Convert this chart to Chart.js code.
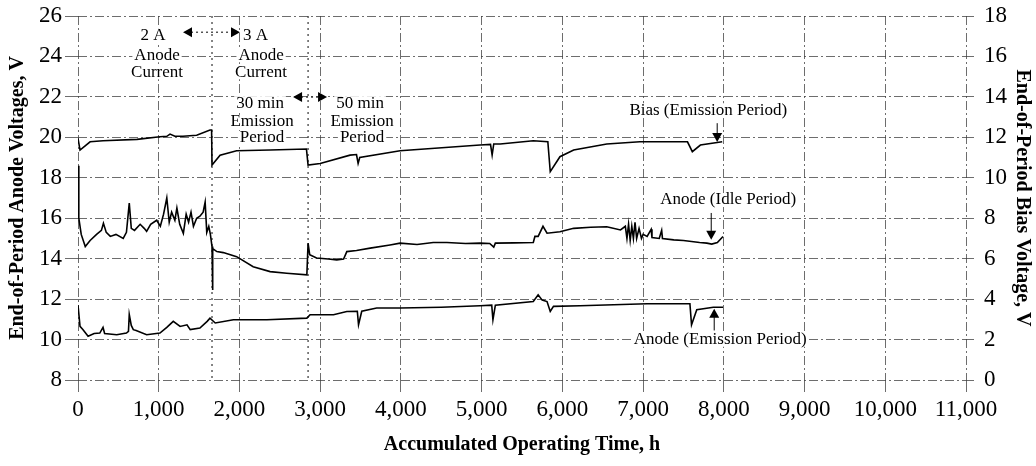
<!DOCTYPE html>
<html>
<head>
<meta charset="utf-8">
<script src="https://cdn.jsdelivr.net/npm/chart.js@4/dist/chart.umd.min.js"></script>
<style>
  html, body { margin: 0; padding: 0; background: #fff; }
  #wrap { width: 1036px; height: 466px; }
</style>
</head>
<body>
<div id="wrap"><canvas id="chart" width="1036" height="466"></canvas></div>
<script>
// values
const biasHours = [0, 25, 150, 310, 730, 1015, 1100, 1140, 1200, 1300, 1470, 1635, 1655, 1660, 1760, 1965, 2380, 2830,
  2850, 3000, 3370, 3450, 3470, 3490, 3990, 4980, 5110, 5130, 5150, 5230, 5640, 5820,
  5850, 5970, 6140, 6550, 6960, 7550, 7610, 7710, 7980];
const biasVolts = [11.95, 11.37, 11.78, 11.83, 11.9, 12.03, 12.05, 12.16, 12.05, 12.05, 12.1, 12.36, 12.36, 10.63, 11.12, 11.34, 11.37, 11.42,
  10.63, 10.71, 11.12, 11.15, 10.71, 11.0, 11.34, 11.62, 11.65, 11.12, 11.67, 11.67, 11.83, 11.78,
  10.3, 11.04, 11.37, 11.67, 11.78, 11.78, 11.29, 11.62, 11.78];

const idleHours = [0, 10, 40, 90, 150, 230, 290, 315, 350, 400, 470, 560, 600, 635, 660, 700, 770, 820, 850, 900, 975,
  1020, 1060, 1100, 1130, 1160, 1200, 1225, 1260, 1305, 1340, 1370, 1400, 1430, 1470, 1510, 1550, 1575, 1595, 1620, 1640,
  1660, 1665, 1672, 1720, 1800, 1965, 2170, 2380, 2585, 2835, 2850, 2870, 2955, 3100, 3205, 3290, 3330, 3450, 3620, 3865,
  3990, 4200, 4400, 4570, 4800, 4980, 5100, 5150, 5170, 5400, 5640, 5660, 5700, 5760, 5810, 5970, 6140, 6350, 6550, 6720,
  6780, 6800, 6820, 6840, 6860, 6880, 6900, 6920, 6950, 6980, 7000, 7050, 7100, 7110, 7200, 7230, 7240, 7380, 7500, 7600,
  7700, 7790, 7850, 7920, 7990];
const idleVolts = [18.6, 16.0, 15.2, 14.6, 14.9, 15.2, 15.4, 15.75, 15.3, 15.1, 15.2, 15.0, 15.3, 16.75, 15.5, 15.4, 15.7, 15.5, 15.35, 15.7, 15.9,
  15.6, 16.2, 17.0, 15.8, 16.3, 15.9, 16.5, 15.7, 15.25, 16.2, 15.8, 16.3, 15.6, 16.0, 16.1, 16.3, 16.8, 15.3, 15.6, 15.2,
  14.6, 12.45, 14.5, 14.35, 14.3, 14.1, 13.6, 13.36, 13.28, 13.2, 14.77, 14.2, 14.03, 13.98, 13.94, 13.98, 14.35, 14.4, 14.52, 14.68,
  14.77, 14.7, 14.8, 14.8, 14.75, 14.77, 14.75, 14.57, 14.77, 14.78, 14.8, 15.1, 15.1, 15.6, 15.26, 15.33, 15.5, 15.55, 15.58, 15.42,
  15.6, 15.0, 15.7, 14.9, 15.6, 15.0, 15.8, 15.0, 15.5, 15.0, 15.2, 15.1, 15.45, 15.05, 15.0, 15.4, 15.0, 14.93, 14.9, 14.85,
  14.8, 14.77, 14.72, 14.8, 15.1];

const emisHours = [0, 25, 60, 125, 200, 270, 310, 330, 480, 600, 625, 635, 660, 685, 720, 850, 1015, 1100, 1180, 1265, 1350,
  1390, 1510, 1600, 1635, 1700, 1925, 2340, 2835, 2875, 3165, 3330, 3460, 3475, 3515, 3700, 3990, 4500, 4980, 5125, 5140,
  5170, 5640, 5700, 5750, 5810, 5850, 5890, 6220, 7050, 7580, 7600, 7665, 7870, 7990];
const emisVolts = [11.7, 10.65, 10.5, 10.16, 10.3, 10.32, 10.6, 10.3, 10.24, 10.32, 10.4, 11.24, 10.7, 10.49, 10.45, 10.24, 10.32, 10.6, 10.9, 10.65, 10.73,
  10.49, 10.57, 10.9, 11.06, 10.82, 10.98, 10.98, 11.06, 11.23, 11.23, 11.39, 11.4, 10.73, 11.4, 11.56, 11.56, 11.6, 11.67, 11.7, 10.98,
  11.7, 11.88, 12.21, 11.95, 11.88, 11.39, 11.64, 11.67, 11.77, 11.77, 10.73, 11.48, 11.6, 11.6];

const xTicks = [0, 1000, 2000, 3000, 4000, 5000, 6000, 7000, 8000, 9000, 10000, 11000];
const periodBreaks = [1660, 2850];

function pts(xs, ys) {
  return xs.map((x, i) => ({ x: x, y: ys[i] }));
}

// annotations, placed in data units (hours, left-axis volts)
const notes = [
  { t: "2 A", x: 930, y: 25.05 },
  { t: "Anode", x: 979, y: 24.06 },
  { t: "Current", x: 979, y: 23.22 },
  { t: "3 A", x: 2200, y: 25.05 },
  { t: "Anode", x: 2268, y: 24.06 },
  { t: "Current", x: 2268, y: 23.22 },
  { t: "30 min", x: 2255, y: 21.69 },
  { t: "Emission", x: 2280, y: 20.76 },
  { t: "Period", x: 2280, y: 19.97 },
  { t: "50 min", x: 3494, y: 21.69 },
  { t: "Emission", x: 3519, y: 20.76 },
  { t: "Period", x: 3519, y: 19.97 },
  { t: "Bias (Emission Period)", x: 7807, y: 21.34 },
  { t: "Anode (Idle Period)", x: 8055, y: 16.9 },
  { t: "Anode (Emission Period)", x: 7955, y: 9.99 }
];
const hArrows = [
  { x1: 1301, x2: 2007, y: 25.2 },
  { x1: 2664, x2: 3085, y: 21.99 }
];
const vArrows = [
  { x: 7918, from: 20.7, to: 19.77 },
  { x: 7844, from: 16.26, to: 14.93 },
  { x: 7881, from: 10.45, to: 11.52 }
];

function tri(ctx, x, y, dx, dy) {
  // filled arrowhead with tip at (x,y), pointing in direction (dx,dy)
  const s = 9, w = 5;
  ctx.beginPath();
  ctx.moveTo(x, y);
  ctx.lineTo(x - dx * s - dy * w, y - dy * s - dx * w);
  ctx.lineTo(x - dx * s + dy * w, y - dy * s + dx * w);
  ctx.closePath();
  ctx.fill();
}

const annot = {
  id: "annot",
  beforeDatasetsDraw(chart) {
    const ctx = chart.ctx, xs = chart.scales.x, ys = chart.scales.y;
    ctx.save();
    ctx.strokeStyle = "#333";
    ctx.lineWidth = 1.2;
    ctx.setLineDash([2, 4]);
    periodBreaks.forEach(h => {
      const px = xs.getPixelForValue(h);
      ctx.beginPath();
      ctx.moveTo(px, ys.top);
      ctx.lineTo(px, ys.bottom);
      ctx.stroke();
    });
    ctx.restore();
  },
  afterDatasetsDraw(chart) {
    const ctx = chart.ctx, xs = chart.scales.x, ys = chart.scales.y;
    ctx.save();
    ctx.font = "17px 'Liberation Serif', serif";
    ctx.textAlign = "center";
    ctx.textBaseline = "middle";
    // white patches first, then all the text on top
    ctx.fillStyle = "#fff";
    notes.forEach(n => {
      const px = xs.getPixelForValue(n.x), py = ys.getPixelForValue(n.y);
      const w = ctx.measureText(n.t).width;
      ctx.fillRect(px - w / 2 - 2, py - 7, w + 4, 14);
    });
    ctx.fillStyle = "#000";
    notes.forEach(n => {
      ctx.fillText(n.t, xs.getPixelForValue(n.x), ys.getPixelForValue(n.y));
    });
    ctx.strokeStyle = "#000";
    ctx.lineWidth = 1;
    hArrows.forEach(a => {
      const p1 = xs.getPixelForValue(a.x1), p2 = xs.getPixelForValue(a.x2), py = ys.getPixelForValue(a.y);
      ctx.setLineDash([2, 3]);
      ctx.beginPath();
      ctx.moveTo(p1 + 8, py);
      ctx.lineTo(p2 - 8, py);
      ctx.stroke();
      ctx.setLineDash([]);
      tri(ctx, p1, py, -1, 0);
      tri(ctx, p2, py, 1, 0);
    });
    vArrows.forEach(a => {
      const px = xs.getPixelForValue(a.x), p1 = ys.getPixelForValue(a.from), p2 = ys.getPixelForValue(a.to);
      const dir = p2 > p1 ? 1 : -1;
      ctx.setLineDash([]);
      ctx.beginPath();
      ctx.moveTo(px, p1);
      ctx.lineTo(px, p2 - dir * 6);
      ctx.stroke();
      tri(ctx, px, p2, 0, dir);
    });
    ctx.restore();
  }
};

const gridCol = "rgba(60,60,60,0.75)";
const tickFont = { family: "'Liberation Serif', serif", size: 23 };
const titleFont = { family: "'Liberation Serif', serif", size: 20, weight: "bold" };

// keep the plot box where the reference has it
function fixV(w) {
  return s => { s.width = w; s.paddingTop = 0; s.paddingBottom = 0; };
}

new Chart(document.getElementById("chart"), {
  type: "line",
  data: {
    datasets: [
      { label: "Bias (Emission Period)", data: pts(biasHours, biasVolts), yAxisID: "y2" },
      { label: "Anode (Idle Period)", data: pts(idleHours, idleVolts), yAxisID: "y" },
      { label: "Anode (Emission Period)", data: pts(emisHours, emisVolts), yAxisID: "y" }
    ]
  },
  options: {
    responsive: false,
    animation: false,
    layout: { padding: { top: 16, bottom: 0, left: 0, right: 0 } },
    elements: {
      line: { borderColor: "#000", borderWidth: 1.6, tension: 0, fill: false },
      point: { radius: 0 }
    },
    plugins: { legend: { display: false }, tooltip: { enabled: false } },
    scales: {
      x: {
        type: "linear",
        min: 0,
        max: 11000,
        afterBuildTicks: s => { s.ticks = xTicks.map(v => ({ value: v })); },
        afterFit: s => { s.height = 86; s.paddingLeft = 0; s.paddingRight = 0; },
        ticks: {
          color: "#000",
          font: tickFont,
          padding: 4,
          maxRotation: 0,
          callback: v => v.toLocaleString("en-US")
        },
        grid: { color: gridCol, lineWidth: 1, tickLength: 12 },
        border: { display: false, dash: [9, 3, 2, 3] },
        title: { display: true, text: "Accumulated Operating Time, h", color: "#000", font: titleFont, padding: { top: 0, bottom: 9 } }
      },
      y: {
        position: "left",
        min: 8,
        max: 26,
        ticks: { stepSize: 2, color: "#000", font: tickFont, padding: 3 },
        afterFit: fixV(78),
        grid: { color: gridCol, lineWidth: 1, tickLength: 13 },
        border: { display: false, dash: [9, 3, 2, 3] },
        title: { display: true, text: "End-of-Period Anode Voltages, V", color: "#000", font: titleFont, padding: { top: 6, bottom: 0 } }
      },
      y2: {
        position: "right",
        min: 0,
        max: 18,
        ticks: { stepSize: 2, color: "#000", font: tickFont, padding: 10 },
        afterFit: fixV(70),
        grid: { drawOnChartArea: false, color: gridCol, tickLength: 8 },
        border: { display: false },
        title: { display: true, text: "End-of-Period Bias Voltage, V", color: "#000", font: titleFont, padding: { top: 2, bottom: 0 } }
      }
    }
  },
  plugins: [annot]
});
</script>
</body>
</html>
